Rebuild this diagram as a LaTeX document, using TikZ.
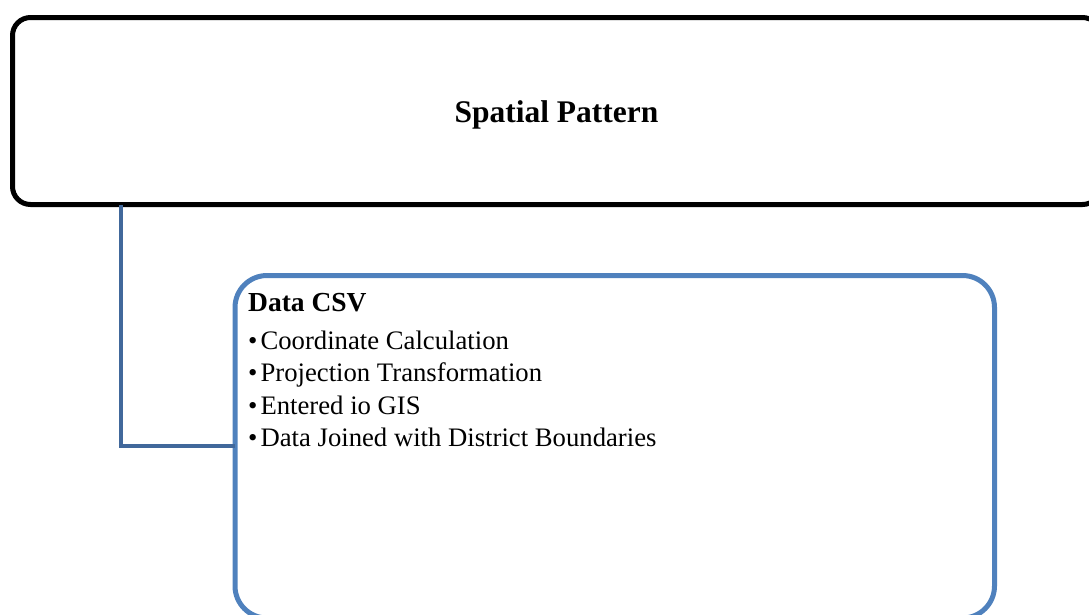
\documentclass[tikz,border=0pt]{standalone}
\usepackage{fontspec}
\setmainfont{Liberation Serif}
\definecolor{boxblue}{HTML}{4F81BD}
\definecolor{linkblue}{HTML}{41689B}
\newcommand{\itembullet}{\textbullet\hspace{3pt}}
\begin{document}
\begin{tikzpicture}[x=1pt,y=-1pt,
  topbox/.style={draw=black, line width=5pt, rounded corners=18pt, outer sep=0pt,
    minimum width=1088pt, minimum height=187pt, inner sep=0pt},
  csvbox/.style={draw=boxblue, line width=5pt, rounded corners=32pt, outer sep=0pt,
    minimum width=759.5pt, minimum height=342.5pt, inner sep=0pt},
  link/.style={draw=linkblue, line width=4.5pt},
  title/.style={font=\bfseries\fontsize{31.5}{36}\selectfont, inner sep=0pt},
  head/.style={font=\bfseries\fontsize{27.5}{32}\selectfont, anchor=base west, inner sep=0pt},
  item/.style={font=\fontsize{26.7}{32}\selectfont, anchor=base west, inner sep=0pt}]
\useasboundingbox (0,0) rectangle (1089,614);

% upper box with its title
\node[topbox] (top) at (556.5,111) {};
\node[title, anchor=base] (toptext) at (556.5,122) {Spatial Pattern};

% lower box with its heading and items
\node[csvbox] (csv) at (614.75,446.75) {};
\node[head] (csvhead) at (248,311) {Data CSV};
\node[item] (i1) at (248,349) {\itembullet Coordinate Calculation};
\node[item] (i2) at (248,381.5) {\itembullet Projection Transformation};
\node[item] (i3) at (248,414) {\itembullet Entered io GIS};
\node[item] (i4) at (248,446) {\itembullet Data Joined with District Boundaries};

% elbow connector from the upper box down to the lower box
\coordinate (elbow) at (121,446);
\draw[link] (top.south -| elbow) -- (elbow) -- (elbow -| csv.west);
\end{tikzpicture}
\end{document}
